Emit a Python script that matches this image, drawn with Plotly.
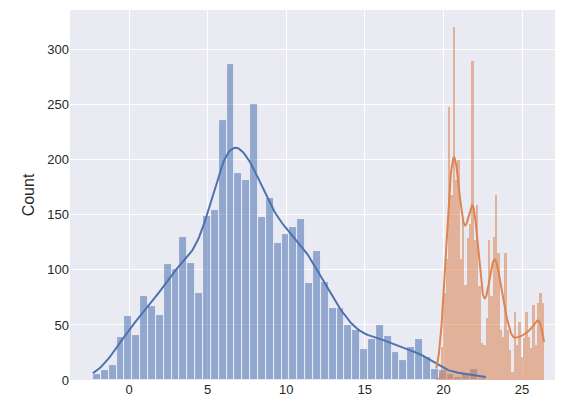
import numpy as np
import plotly.graph_objects as go

# blue histogram: 50 bins of width 0.5 starting at -2.3
blue_start = -2.3
blue_width = 0.5
blue_counts = [5, 9, 14, 39, 58, 41, 76, 67, 59, 105, 101, 130, 106, 79, 149, 154, 236, 287,
               188, 182, 251, 148, 165, 124, 133, 139, 146, 88, 117, 89, 65, 65, 50, 45, 28, 37,
               50, 40, 25, 18, 30, 37, 21, 10, 9, 5, 3, 6, 10, 2]

# orange histogram: narrow bins starting at 19.55
orange_start = 19.55
orange_width = 0.149
orange_counts = [3, 6, 30, 79, 110, 248, 168, 321, 182, 200, 110, 145, 86, 129, 142, 290, 127,
                 159, 85, 34, 32, 56, 127, 76, 130, 168, 115, 45, 39, 115, 45, 27, 7, 62, 32,
                 53, 21, 38, 62, 39, 29, 68, 32, 70, 79, 70]

BLUE = "#4c72b0"
ORANGE = "#dd8452"


def kde_line(start, width, counts, bw_adjust=1.0):
    counts = np.array(counts, dtype=float)
    centers = start + width * (np.arange(len(counts)) + 0.5)
    n = counts.sum()
    mean = (centers * counts).sum() / n
    sd = np.sqrt(((centers - mean) ** 2 * counts).sum() / n)
    bw = sd * n ** (-1 / 5) * bw_adjust
    xs = np.linspace(centers[0] - width / 2, centers[-1] + width / 2, 300)
    dens = (counts[None, :] * np.exp(-0.5 * ((xs[:, None] - centers[None, :]) / bw) ** 2)).sum(1)
    dens /= n * bw * np.sqrt(2 * np.pi)
    return xs, dens * n * width


fig = go.Figure()
for start, width, counts, color in [(blue_start, blue_width, blue_counts, BLUE),
                                     (orange_start, orange_width, orange_counts, ORANGE)]:
    centers = start + width * (np.arange(len(counts)) + 0.5)
    fig.add_trace(go.Bar(x=centers, y=counts, width=width, marker_color=color, opacity=0.55,
                         marker_line=dict(color="white", width=0.8 if width > 0.3 else 0)))

bx, by = kde_line(blue_start, blue_width, blue_counts, 1.15)
fig.add_trace(go.Scatter(x=bx, y=by, mode="lines", line=dict(color=BLUE, width=2)))
ox, oy = kde_line(orange_start, orange_width, orange_counts, 0.9)
fig.add_trace(go.Scatter(x=ox, y=oy, mode="lines", line=dict(color=ORANGE, width=2)))

fig.update_layout(
    width=575, height=416, showlegend=False, barmode="overlay", bargap=0,
    plot_bgcolor="#eaeaf2", paper_bgcolor="white",
    margin=dict(l=62, r=28, t=2, b=44),
    font=dict(family="Liberation Sans, Arial", size=13, color="#262626"),
)
fig.update_xaxes(range=[-3.76, 27.1], tickvals=[0, 5, 10, 15, 20, 25], gridcolor="white",
                 gridwidth=1.2, zeroline=False, showline=False)
fig.update_yaxes(range=[0, 336], tickvals=[0, 50, 100, 150, 200, 250, 300], gridcolor="white",
                 gridwidth=1.2, zeroline=False, title_text="Count", title_standoff=8)
fig.write_html("out.html")
